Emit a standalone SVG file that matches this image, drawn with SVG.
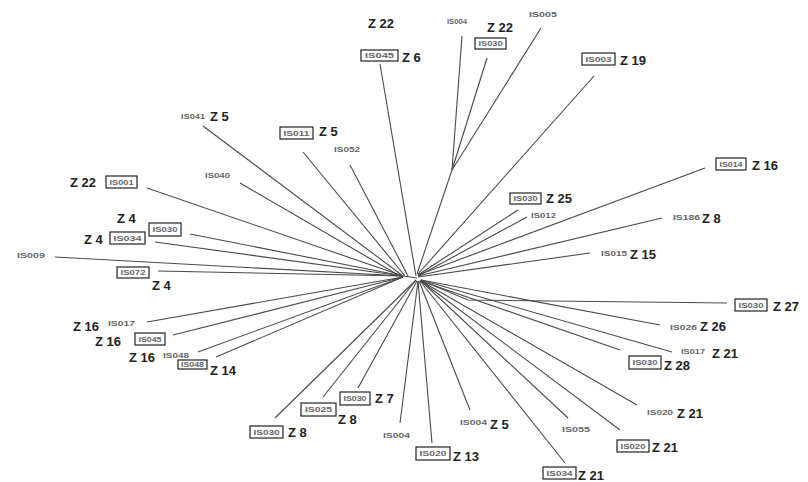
<svg xmlns="http://www.w3.org/2000/svg" width="808" height="482" viewBox="0 0 808 482">
<style>
.e{stroke:#4a4a4a;stroke-width:1.1;fill:none}
.z{font-family:"Liberation Sans",Arial,sans-serif;font-weight:bold;font-size:13px;fill:#222}
.s{font-family:"Liberation Sans",Arial,sans-serif;font-size:6.5px;font-weight:bold;fill:#666}
.b{fill:#fff;stroke:#222;stroke-width:1.2}
.bt{font-family:"Liberation Sans",Arial,sans-serif;font-size:6.5px;font-weight:bold;fill:#666;text-anchor:middle}
</style>
<rect width="808" height="482" fill="#fff"/>
<g id="connectors">
<line class="e" x1="403" y1="276" x2="417" y2="278"/>
<line class="e" x1="452" y1="170" x2="417" y2="274"/>
<line class="e" x1="380" y1="64" x2="416" y2="276"/>
<line class="e" x1="462" y1="36" x2="452" y2="170"/>
<line class="e" x1="487" y1="58" x2="452" y2="170"/>
<line class="e" x1="541" y1="28" x2="452" y2="170"/>
<line class="e" x1="594" y1="76" x2="418" y2="274"/>
<line class="e" x1="705" y1="168" x2="418" y2="275"/>
<line class="e" x1="518" y1="210" x2="418" y2="275"/>
<line class="e" x1="527" y1="217" x2="418" y2="276"/>
<line class="e" x1="662" y1="218" x2="418" y2="276"/>
<line class="e" x1="590" y1="253" x2="418" y2="277"/>
<line class="e" x1="203" y1="126" x2="403" y2="276"/>
<line class="e" x1="303" y1="152" x2="405" y2="276"/>
<line class="e" x1="350" y1="165" x2="408" y2="276"/>
<line class="e" x1="240" y1="183" x2="400" y2="276"/>
<line class="e" x1="147" y1="188" x2="403" y2="276"/>
<line class="e" x1="190" y1="234" x2="403" y2="276"/>
<line class="e" x1="155" y1="242" x2="403" y2="276"/>
<line class="e" x1="55" y1="257" x2="403" y2="276"/>
<line class="e" x1="158" y1="271" x2="403" y2="276"/>
<line class="e" x1="147" y1="322" x2="403" y2="277"/>
<line class="e" x1="173" y1="335" x2="403" y2="277"/>
<line class="e" x1="198" y1="352" x2="403" y2="277"/>
<line class="e" x1="216" y1="357" x2="403" y2="277"/>
<line class="e" x1="275" y1="418" x2="416" y2="280"/>
<line class="e" x1="323" y1="397" x2="416" y2="280"/>
<line class="e" x1="358" y1="388" x2="417" y2="281"/>
<line class="e" x1="400" y1="423" x2="418" y2="281"/>
<line class="e" x1="432" y1="443" x2="418" y2="281"/>
<line class="e" x1="470" y1="410" x2="419" y2="281"/>
<line class="e" x1="565" y1="463" x2="420" y2="281"/>
<line class="e" x1="568" y1="418" x2="421" y2="281"/>
<line class="e" x1="620" y1="430" x2="421" y2="281"/>
<line class="e" x1="637" y1="405" x2="421" y2="281"/>
<line class="e" x1="620" y1="350" x2="421" y2="281"/>
<line class="e" x1="672" y1="352" x2="421" y2="280"/>
<line class="e" x1="660" y1="325" x2="421" y2="280"/>
<polyline class="e" points="420,280 468,300 727,303"/>
</g>
<g id="n1"><rect class="b" x="361" y="50" width="37" height="11"/><text class="bt" x="379.5" y="58" textLength="29" lengthAdjust="spacingAndGlyphs">IS045</text><text class="z" x="402" y="62">Z 6</text></g>
<g id="n2"><text class="z" x="368" y="28">Z 22</text><text class="s" x="447" y="24" textLength="20" lengthAdjust="spacingAndGlyphs">IS004</text></g>
<g id="n3"><text class="z" x="487" y="32">Z 22</text><rect class="b" x="475" y="38" width="31" height="11"/><text class="bt" x="490.5" y="46" textLength="24" lengthAdjust="spacingAndGlyphs">IS030</text></g>
<g id="n4"><text class="s" x="529" y="17" textLength="28" lengthAdjust="spacingAndGlyphs">IS005</text></g>
<g id="n5"><rect class="b" x="582" y="53" width="33" height="12"/><text class="bt" x="598.5" y="61.5" textLength="26" lengthAdjust="spacingAndGlyphs">IS003</text><text class="z" x="620" y="65">Z 19</text></g>
<g id="n6"><rect class="b" x="716" y="158" width="30" height="12"/><text class="bt" x="731" y="166.5" textLength="23" lengthAdjust="spacingAndGlyphs">IS014</text><text class="z" x="752" y="170">Z 16</text></g>
<g id="n7"><rect class="b" x="510" y="193" width="31" height="11"/><text class="bt" x="525.5" y="201" textLength="24" lengthAdjust="spacingAndGlyphs">IS030</text><text class="z" x="546" y="203">Z 25</text></g>
<g id="n8"><text class="s" x="531" y="218" textLength="25" lengthAdjust="spacingAndGlyphs">IS012</text></g>
<g id="n9"><text class="s" x="673" y="220" textLength="27" lengthAdjust="spacingAndGlyphs">IS186</text><text class="z" x="702" y="223">Z 8</text></g>
<g id="n10"><text class="s" x="601" y="256" textLength="26" lengthAdjust="spacingAndGlyphs">IS015</text><text class="z" x="630" y="259">Z 15</text></g>
<g id="n11"><text class="s" x="181" y="119" textLength="24" lengthAdjust="spacingAndGlyphs">IS041</text><text class="z" x="210" y="121">Z 5</text></g>
<g id="n12"><rect class="b" x="280" y="127" width="33" height="12"/><text class="bt" x="296.5" y="135.5" textLength="26" lengthAdjust="spacingAndGlyphs">IS011</text><text class="z" x="319" y="136">Z 5</text></g>
<g id="n13"><text class="s" x="334" y="152" textLength="26" lengthAdjust="spacingAndGlyphs">IS052</text></g>
<g id="n14"><text class="s" x="205" y="178" textLength="25" lengthAdjust="spacingAndGlyphs">IS040</text></g>
<g id="n15"><text class="z" x="70" y="187">Z 22</text><rect class="b" x="106" y="176" width="31" height="12"/><text class="bt" x="121.5" y="184.5" textLength="24" lengthAdjust="spacingAndGlyphs">IS001</text></g>
<g id="n16"><text class="z" x="117" y="223">Z 4</text><rect class="b" x="149" y="223" width="32" height="13"/><text class="bt" x="165" y="232" textLength="25" lengthAdjust="spacingAndGlyphs">IS030</text></g>
<g id="n17"><text class="z" x="84" y="244">Z 4</text><rect class="b" x="110" y="232" width="35" height="12"/><text class="bt" x="127.5" y="240.5" textLength="28" lengthAdjust="spacingAndGlyphs">IS034</text></g>
<g id="n18"><text class="s" x="17" y="258" textLength="28" lengthAdjust="spacingAndGlyphs">IS009</text></g>
<g id="n19"><rect class="b" x="117" y="267" width="32" height="11"/><text class="bt" x="133" y="275" textLength="25" lengthAdjust="spacingAndGlyphs">IS072</text><text class="z" x="152" y="290">Z 4</text></g>
<g id="n20"><text class="z" x="73" y="331">Z 16</text><text class="s" x="108" y="326" textLength="27" lengthAdjust="spacingAndGlyphs">IS017</text></g>
<g id="n21"><text class="z" x="95" y="346">Z 16</text><rect class="b" x="135" y="333" width="30" height="12"/><text class="bt" x="150" y="341.5" textLength="23" lengthAdjust="spacingAndGlyphs">IS045</text></g>
<g id="n22"><text class="z" x="129" y="362">Z 16</text><text class="s" x="163" y="358" textLength="26" lengthAdjust="spacingAndGlyphs">IS048</text></g>
<g id="n23"><rect class="b" x="178" y="360" width="29" height="9"/><text class="bt" x="192.5" y="367" textLength="23" lengthAdjust="spacingAndGlyphs">IS048</text><text class="z" x="210" y="375">Z 14</text></g>
<g id="n24"><rect class="b" x="250" y="426" width="33" height="12"/><text class="bt" x="266.5" y="434.5" textLength="26" lengthAdjust="spacingAndGlyphs">IS030</text><text class="z" x="288" y="437">Z 8</text></g>
<g id="n25"><rect class="b" x="301" y="403" width="35" height="13"/><text class="bt" x="318.5" y="412" textLength="27" lengthAdjust="spacingAndGlyphs">IS025</text><text class="z" x="338" y="424">Z 8</text></g>
<g id="n26"><rect class="b" x="340" y="392" width="30" height="13"/><text class="bt" x="355" y="401" textLength="23" lengthAdjust="spacingAndGlyphs">IS030</text><text class="z" x="375" y="403">Z 7</text></g>
<g id="n27"><text class="s" x="383" y="438" textLength="27" lengthAdjust="spacingAndGlyphs">IS004</text></g>
<g id="n28"><rect class="b" x="416" y="447" width="34" height="13"/><text class="bt" x="433" y="456" textLength="27" lengthAdjust="spacingAndGlyphs">IS020</text><text class="z" x="453" y="461">Z 13</text></g>
<g id="n29"><text class="s" x="460" y="425" textLength="27" lengthAdjust="spacingAndGlyphs">IS004</text><text class="z" x="490" y="429">Z 5</text></g>
<g id="n30"><rect class="b" x="543" y="467" width="33" height="12"/><text class="bt" x="559.5" y="475.5" textLength="26" lengthAdjust="spacingAndGlyphs">IS034</text><text class="z" x="578" y="480">Z 21</text></g>
<g id="n31"><text class="s" x="562" y="432" textLength="28" lengthAdjust="spacingAndGlyphs">IS055</text></g>
<g id="n32"><rect class="b" x="617" y="440" width="32" height="12"/><text class="bt" x="633" y="448.5" textLength="25" lengthAdjust="spacingAndGlyphs">IS020</text><text class="z" x="652" y="452">Z 21</text></g>
<g id="n33"><text class="s" x="647" y="415" textLength="26" lengthAdjust="spacingAndGlyphs">IS020</text><text class="z" x="677" y="418">Z 21</text></g>
<g id="n34"><rect class="b" x="629" y="356" width="32" height="13"/><text class="bt" x="645" y="365" textLength="25" lengthAdjust="spacingAndGlyphs">IS030</text><text class="z" x="664" y="370">Z 28</text></g>
<g id="n35"><text class="s" x="681" y="354" textLength="24" lengthAdjust="spacingAndGlyphs">IS017</text><text class="z" x="712" y="358">Z 21</text></g>
<g id="n36"><text class="s" x="670" y="330" textLength="27" lengthAdjust="spacingAndGlyphs">IS026</text><text class="z" x="700" y="331">Z 26</text></g>
<g id="n37"><rect class="b" x="735" y="299" width="32" height="12"/><text class="bt" x="751" y="307.5" textLength="25" lengthAdjust="spacingAndGlyphs">IS030</text><text class="z" x="773" y="311">Z 27</text></g>
</svg>
